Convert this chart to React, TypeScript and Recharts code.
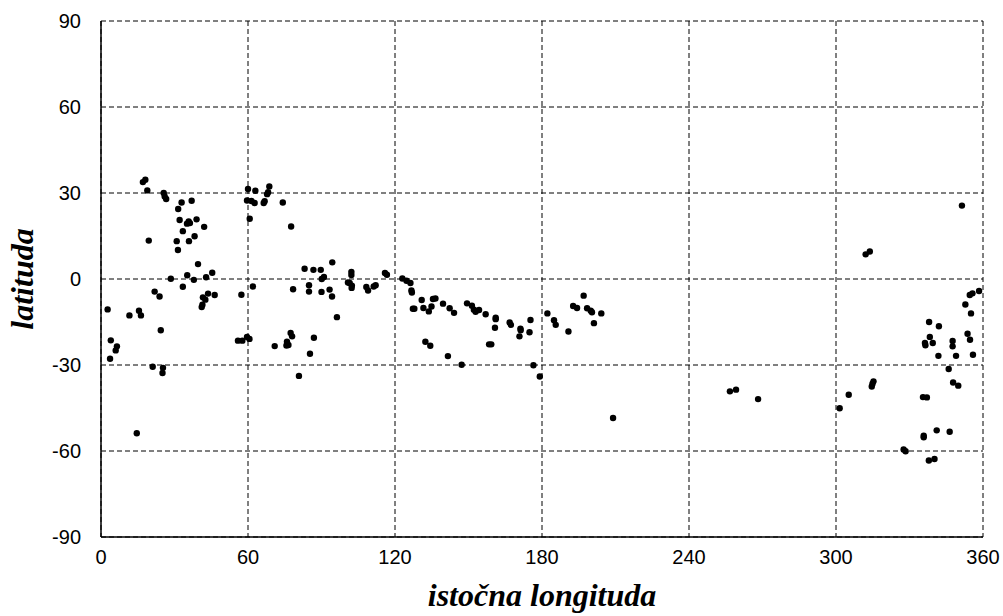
import React from "react";
import { ScatterChart, Scatter, XAxis, YAxis, CartesianGrid } from "recharts";

// East longitude (degrees) of each point
const longitudes: number[] = [
  // 0 - 60
  17.1, 18.1, 18.9, 25.6, 26.0, 26.6, 32.9, 37.0, 31.5, 32.1, 35.8, 35.1, 36.3, 39.0, 42.1,
  33.4, 38.2, 19.5, 30.9, 35.9, 31.4, 39.6, 28.5, 35.2, 37.9, 42.9, 45.4, 33.4, 21.9, 23.9,
  41.6, 43.7, 41.1, 41.4, 46.4, 42.6, 57.3, 2.7, 11.6, 15.5, 16.3, 24.4, 4.0, 6.0, 6.5,
  3.7, 21.1, 25.3, 25.1, 14.6, 55.9, 57.7, 59.6, 60.6,
  // 60 - 120
  60.0, 63.0, 68.7, 68.2, 67.8, 66.8, 66.4, 59.6, 61.4, 62.7, 74.2, 60.7, 77.6, 83.1, 86.7,
  89.7, 94.4, 91.0, 90.1, 102.2, 102.2, 101.5, 100.8, 102.3, 102.4, 115.9, 116.7, 108.3, 109.0, 111.3,
  112.1, 62.0, 78.4, 84.9, 84.9, 90.0, 93.3, 94.3, 96.3, 70.9, 75.9, 75.7, 76.5, 77.4, 78.0,
  86.9, 85.3, 80.8,
  // 120 - 210
  123.0, 124.7, 126.3, 126.7, 126.9, 127.3, 127.9, 130.9, 131.6, 133.8, 134.9, 135.5, 136.5, 139.6, 142.3,
  144.1, 132.4, 134.4, 141.6, 147.2, 149.4, 151.4, 152.2, 152.9, 154.3, 157.0, 161.1, 161.1, 160.8, 158.4,
  159.3, 166.8, 167.3, 171.2, 171.3, 170.8, 175.3, 174.9, 176.5, 179.1, 182.2, 184.9, 185.6, 190.8, 192.7,
  194.3, 197.0, 198.4, 199.9, 200.4, 201.2, 204.2, 209.0,
  // 240 - 360
  256.7, 259.2, 268.2, 301.5, 305.2, 351.4, 312.1, 313.8, 358.4, 354.6, 355.7, 352.8, 355.1, 338.0, 342.0,
  353.7, 354.7, 338.3, 336.3, 336.5, 339.5, 347.6, 347.6, 341.8, 349.0, 355.9, 346.0, 347.8, 349.9, 315.3,
  314.9, 314.6, 335.5, 337.1, 341.1, 346.4, 335.8, 335.8, 327.6, 328.4, 337.9, 340.2,
];

// Latitude (degrees) of each point, same order
const latitudes: number[] = [
  // 0 - 60
  33.8, 34.6, 30.9, 30.0, 28.8, 27.9, 26.7, 27.3, 24.4, 20.6, 20.1, 19.3, 19.5, 20.8, 18.2,
  16.7, 14.9, 13.4, 13.2, 13.2, 10.1, 5.2, 0.1, 1.3, -0.3, 0.6, 2.2, -2.7, -4.4, -6.1,
  -6.4, -5.1, -9.8, -9.0, -5.6, -7.2, -5.5, -10.6, -12.7, -11.1, -12.7, -17.9, -21.4, -24.9, -23.5,
  -27.8, -30.6, -31.0, -32.8, -53.8, -21.5, -21.5, -20.2, -20.9,
  // 60 - 120
  31.4, 30.8, 32.3, 30.3, 29.6, 27.1, 26.5, 27.4, 27.2, 26.5, 26.7, 21.0, 18.3, 3.6, 3.2,
  3.2, 5.8, 0.7, 0.0, 2.5, 1.4, -1.4, -1.2, -3.1, -2.3, 2.1, 1.5, -2.8, -4.0, -2.6,
  -2.2, -2.6, -3.6, -2.2, -4.4, -4.5, -3.7, -6.1, -13.3, -23.4, -21.9, -23.2, -23.0, -18.8, -20.0,
  -20.5, -26.1, -33.8,
  // 120 - 210
  0.2, -0.6, -1.4, -4.0, -4.7, -10.4, -10.4, -7.3, -10.1, -11.3, -9.6, -7.0, -6.8, -8.6, -10.2,
  -11.8, -21.9, -23.3, -26.9, -29.9, -8.5, -9.3, -10.7, -11.4, -10.8, -12.3, -13.5, -14.0, -17.0, -22.8,
  -22.8, -15.2, -16.0, -17.3, -17.9, -20.0, -14.3, -18.6, -30.1, -34.0, -12.0, -14.4, -16.0, -18.3, -9.4,
  -10.1, -5.8, -10.2, -11.1, -11.6, -15.4, -12.0, -48.5,
  // 240 - 360
  -39.2, -38.6, -41.9, -45.1, -40.4, 25.6, 8.6, 9.6, -4.2, -5.6, -5.0, -8.9, -12.0, -15.0, -16.5,
  -19.1, -21.2, -20.2, -22.3, -23.1, -22.3, -21.6, -23.5, -26.8, -26.8, -26.4, -31.4, -36.1, -37.2, -35.7,
  -36.5, -37.5, -41.2, -41.3, -52.8, -53.3, -54.7, -55.2, -59.5, -60.1, -63.3, -62.8,
];

const xTicks: number[] = [0, 60, 120, 180, 240, 300, 360];
const yTicks: number[] = [-90, -60, -30, 0, 30, 60, 90];

const xTitle = "istočna longituda";
const yTitle = "latituda";

const points = longitudes.map((lon, i) => ({ lon, lat: latitudes[i] }));

const Dot = (props: any) => {
  const { cx, cy } = props;
  if (cx == null || cy == null) return null;
  return <circle cx={cx} cy={cy} r={3.2} fill="#000" />;
};

const tickFont = { fontFamily: "'Liberation Sans', Arial, sans-serif", fontSize: 20, fill: "#000" };
const titleFont = {
  fontFamily: "'Liberation Serif', 'Times New Roman', serif",
  fontSize: 32,
  fontWeight: 700,
  fontStyle: "italic",
  fill: "#000",
};

export default function App() {
  return (
    <div style={{ position: "absolute", left: 0, top: 0, width: 1003, height: 616, background: "#fff" }}>
      <ScatterChart width={1003} height={616} margin={{ top: 21, right: 20, bottom: 0, left: 0 }}>
        <CartesianGrid stroke="#000" strokeWidth={1} strokeDasharray="5 3" />
        <XAxis
          type="number"
          dataKey="lon"
          domain={[0, 360]}
          ticks={xTicks}
          interval={0}
          height={79}
          tickLine={false}
          tickMargin={7}
          axisLine={{ stroke: "#000", strokeWidth: 1.5 }}
          tick={tickFont}
          allowDataOverflow
          label={{
            content: (p: any) => {
              const vb = p.viewBox;
              return (
                <text x={vb.x + vb.width / 2} y={vb.y + 69} textAnchor="middle" style={titleFont}>
                  {xTitle}
                </text>
              );
            },
          }}
        />
        <YAxis
          type="number"
          dataKey="lat"
          domain={[-90, 90]}
          ticks={yTicks}
          interval={0}
          width={101}
          tickLine={false}
          tickMargin={14}
          axisLine={{ stroke: "#000", strokeWidth: 1.5 }}
          tick={tickFont}
          allowDataOverflow
          label={{
            content: (p: any) => {
              const vb = p.viewBox;
              const cx = 33;
              const cy = vb.y + vb.height / 2;
              return (
                <text
                  x={cx}
                  y={cy}
                  textAnchor="middle"
                  transform={`rotate(-90 ${cx} ${cy})`}
                  style={titleFont}
                >
                  {yTitle}
                </text>
              );
            },
          }}
        />
        <Scatter data={points} shape={Dot} isAnimationActive={false} />
      </ScatterChart>
    </div>
  );
}
